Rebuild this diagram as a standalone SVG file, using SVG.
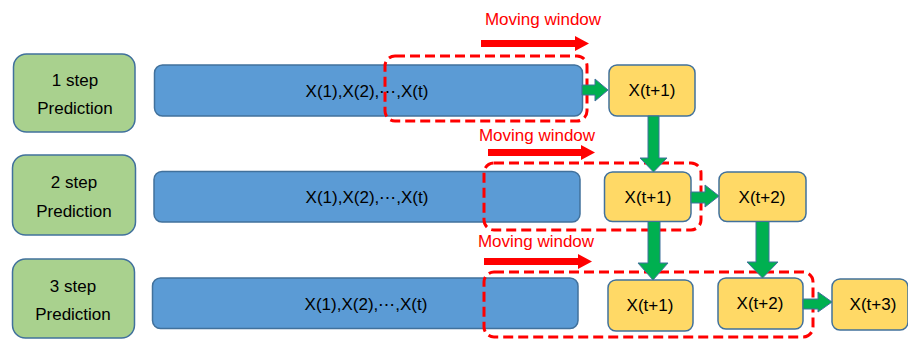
<svg xmlns="http://www.w3.org/2000/svg" width="908" height="340" viewBox="0 0 908 340">
<style>
text{font-family:"Liberation Sans",Arial,sans-serif;font-size:17px;fill:#000;text-anchor:middle}
.g{fill:#A9D18E;stroke:#41719C;stroke-width:1.5}
.b{fill:#5B9BD5;stroke:#41719C;stroke-width:1.5}
.y{fill:#FFD966;stroke:#41719C;stroke-width:1.5}
.win{fill:none;stroke:#FF0000;stroke-width:3;stroke-dasharray:10 5}
.red{fill:#FF0000}
text.rt{fill:#FF0000}
.ga{fill:#00B050;stroke:#41719C;stroke-width:1}
</style>
<rect width="908" height="340" fill="#fff"/>
<g id="step1"><rect class="g" x="13.5" y="54" width="121.5" height="78" rx="13"/><text x="75" y="86">1 step</text><text x="75" y="114">Prediction</text></g>
<g id="step2"><rect class="g" x="12.5" y="155" width="123" height="80" rx="13"/><text x="74" y="188">2 step</text><text x="74" y="217">Prediction</text></g>
<g id="step3"><rect class="g" x="12.5" y="259" width="122" height="79" rx="13"/><text x="73" y="292">3 step</text><text x="73" y="320">Prediction</text></g>
<g id="seq1"><rect class="b" x="154.5" y="65" width="428" height="51" rx="8"/><text x="367" y="97">X(1),X(2),⋯,X(t)</text></g>
<g id="seq2"><rect class="b" x="154" y="171.5" width="426" height="50.5" rx="8"/><text x="367" y="203">X(1),X(2),⋯,X(t)</text></g>
<g id="seq3"><rect class="b" x="152.5" y="278" width="425.5" height="50.5" rx="8"/><text x="366" y="310">X(1),X(2),⋯,X(t)</text></g>
<g id="r1p1"><rect class="y" x="609" y="65" width="86" height="51" rx="8"/><text x="652" y="96">X(t+1)</text></g>
<g id="r2p1"><rect class="y" x="604.5" y="172" width="86.5" height="49.5" rx="8"/><text x="648" y="203">X(t+1)</text></g>
<g id="r2p2"><rect class="y" x="719" y="172" width="87" height="49.5" rx="8"/><text x="762" y="203">X(t+2)</text></g>
<g id="r3p1"><rect class="y" x="608" y="280" width="85" height="51" rx="8"/><text x="650" y="311">X(t+1)</text></g>
<g id="r3p2"><rect class="y" x="718" y="278" width="85" height="51" rx="8"/><text x="760" y="309">X(t+2)</text></g>
<g id="r3p3"><rect class="y" x="832" y="279" width="76" height="51" rx="8"/><text x="873" y="310">X(t+3)</text></g>
<g id="windows">
<rect class="win" x="385" y="56" width="202" height="65" rx="10"/>
<rect class="win" x="484" y="163" width="217" height="67" rx="10"/>
<rect class="win" x="484" y="272" width="329" height="65" rx="10"/>
<text class="rt" x="543" y="25">Moving window</text>
<text class="rt" x="537" y="141">Moving window</text>
<text class="rt" x="536" y="247">Moving window</text>
<polygon class="red" points="481,40 575,40 575,36 589,43.5 575,51 575,47 481,47"/>
<polygon class="red" points="488,149 581,149 581,145 595,152.5 581,160 581,156 488,156"/>
<polygon class="red" points="484,258 578,258 578,254 592,261.5 578,269 578,265 484,265"/>
</g>
<g id="connectors">
<polygon class="ga" points="582,85 595,85 595,79 608,90 595,101 595,95 582,95"/>
<polygon class="ga" points="648,116 659,116 659,158 667,158 653.5,172 640,158 648,158"/>
<polygon class="ga" points="691,192 705,192 705,185 719,196 705,207 705,203 691,203"/>
<polygon class="ga" points="648,221.5 660,221.5 660,263 668,263 653,280 638,263 648,263"/>
<polygon class="ga" points="756,221.5 769,221.5 769,262 778,262 762.5,278 747,262 756,262"/>
<polygon class="ga" points="803,299 818,299 818,292 832,302 818,312 818,309 803,309"/>
</g>
</svg>
